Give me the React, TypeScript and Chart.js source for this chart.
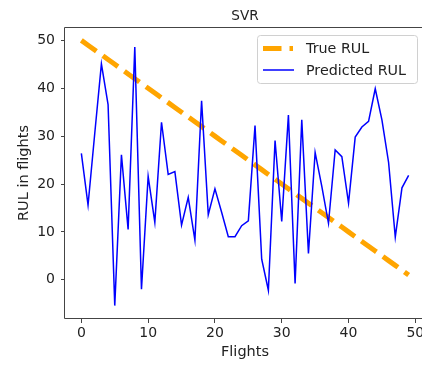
import React, { useEffect, useRef } from "react";
import { Chart, registerables } from "chart.js";

Chart.register(...registerables);

const flights = Array.from({ length: 50 }, (_, i) => i);
const trueRUL = [
  50, 49, 48, 47, 46, 45, 44, 43, 42, 41,
  40, 39, 38, 37, 36, 35, 34, 33, 32, 31,
  30, 29, 28, 27, 26, 25, 24, 23, 22, 21,
  20, 19, 18, 17, 16, 15, 14, 13, 12, 11,
  10, 9, 8, 7, 6, 5, 4, 3, 2, 1,
];
const predictedRUL = [
  26.4, 15.6, 30.5, 45.1, 36.6, -5.4, 26.1, 10.5, 48.6, -2.0,
  21.6, 12.0, 32.9, 22.0, 22.6, 11.4, 17.2, 8.3, 37.4, 13.6,
  19.0, 14.1, 9.0, 9.0, 11.3, 12.3, 32.2, 4.3, -2.2, 29.1,
  12.2, 34.4, -0.8, 33.4, 5.5, 26.6, 19.5, 11.8, 27.1, 25.7,
  16.0, 29.8, 31.9, 33.1, 39.9, 33.4, 24.5, 8.9, 19.2, 21.8,
];
const xTicks = [0, 10, 20, 30, 40, 50];
const yTicks = [0, 10, 20, 30, 40, 50];
const titleText = "SVR";
const xLabel = "Flights";
const yLabel = "RUL in flights";
const seriesNames = ["True RUL", "Predicted RUL"];

const FONT = "'DejaVu Sans', sans-serif";
const TEXT = "#222";
const SPINE = "#444";
const ORANGE = "#FFA500";
const BLUE = "#0000FF";
const DASH = [18.5, 8];
const CANVAS_W = 450;

const decor = {
  id: "decor",
  afterDraw(chart: any) {
    const { ctx, chartArea: a } = chart;
    ctx.save();
    // frame: left, top and bottom spines (the right spine lies beyond the page)
    ctx.strokeStyle = SPINE;
    ctx.lineWidth = 1;
    ctx.setLineDash([]);
    const L = Math.round(a.left) - 0.5;
    const T = Math.round(a.top) + 0.5;
    const B = Math.round(a.bottom) - 0.5;
    const R = Math.round(a.right);
    ctx.beginPath();
    ctx.moveTo(R, T);
    ctx.lineTo(L, T);
    ctx.lineTo(L, B);
    ctx.lineTo(R, B);
    ctx.stroke();
    // title
    ctx.fillStyle = TEXT;
    ctx.font = `13.6px ${FONT}`;
    ctx.textAlign = "center";
    ctx.textBaseline = "alphabetic";
    ctx.fillText(titleText, (a.left + a.right) / 2, 20);
    // legend
    const bx = 257.5, by = 35.5, bw = 160, bh = 48, r = 3;
    ctx.beginPath();
    ctx.moveTo(bx + r, by);
    ctx.lineTo(bx + bw - r, by);
    ctx.arcTo(bx + bw, by, bx + bw, by + r, r);
    ctx.lineTo(bx + bw, by + bh - r);
    ctx.arcTo(bx + bw, by + bh, bx + bw - r, by + bh, r);
    ctx.lineTo(bx + r, by + bh);
    ctx.arcTo(bx, by + bh, bx, by + bh - r, r);
    ctx.lineTo(bx, by + r);
    ctx.arcTo(bx, by, bx + r, by, r);
    ctx.closePath();
    ctx.fillStyle = "rgba(255,255,255,0.8)";
    ctx.fill();
    ctx.strokeStyle = "#d0d0d0";
    ctx.lineWidth = 1;
    ctx.stroke();
    // handles
    ctx.lineCap = "butt";
    ctx.strokeStyle = ORANGE;
    ctx.lineWidth = 5;
    ctx.setLineDash(DASH);
    ctx.beginPath();
    ctx.moveTo(263, 48.5);
    ctx.lineTo(293, 48.5);
    ctx.stroke();
    ctx.setLineDash([]);
    ctx.strokeStyle = BLUE;
    ctx.lineWidth = 1.5;
    ctx.beginPath();
    ctx.moveTo(263, 70);
    ctx.lineTo(294, 70);
    ctx.stroke();
    ctx.fillStyle = TEXT;
    ctx.font = `14.3px ${FONT}`;
    ctx.textAlign = "left";
    ctx.fillText(seriesNames[0], 306, 52.7);
    ctx.fillText(seriesNames[1], 306, 75);
    ctx.restore();
  },
};

export default function App() {
  const ref = useRef<HTMLCanvasElement | null>(null);
  useEffect(() => {
    if (!ref.current) return;
    const chart = new Chart(ref.current, {
      type: "line",
      data: {
        datasets: [
          {
            label: seriesNames[0],
            data: flights.map((x, i) => ({ x, y: trueRUL[i] })),
            borderColor: ORANGE,
            borderWidth: 5,
            borderDash: DASH,
            borderCapStyle: "butt",
            pointRadius: 0,
            tension: 0,
            order: 2,
          },
          {
            label: seriesNames[1],
            data: flights.map((x, i) => ({ x, y: predictedRUL[i] })),
            borderColor: BLUE,
            borderWidth: 1.5,
            pointRadius: 0,
            tension: 0,
            order: 1,
          },
        ],
      },
      options: {
        responsive: false,
        maintainAspectRatio: false,
        devicePixelRatio: 1,
        animation: false,
        layout: { padding: { top: 27, right: CANVAS_W - 425, left: 0, bottom: 0 } },
        plugins: {
          legend: { display: false },
          tooltip: { enabled: false },
          title: { display: false },
        },
        scales: {
          x: {
            type: "linear",
            min: -2.45,
            max: 51.45,
            afterBuildTicks: (s: any) => {
              s.ticks = xTicks.map((v) => ({ value: v }));
            },
            afterFit: (s: any) => {
              s.height = 46;
            },
            ticks: { font: { family: FONT, size: 14 }, color: TEXT, padding: 2, maxRotation: 0, autoSkip: false },
            grid: { drawOnChartArea: false, drawTicks: true, tickLength: 4, color: SPINE },
            border: { display: false },
            title: { display: true, text: xLabel, font: { family: FONT, size: 14.5 }, color: TEXT, padding: { top: 0, bottom: 4 } },
          },
          y: {
            type: "linear",
            min: -8.2,
            max: 52.8,
            afterBuildTicks: (s: any) => {
              s.ticks = yTicks.map((v) => ({ value: v }));
            },
            afterFit: (s: any) => {
              s.width = 65;
            },
            ticks: { font: { family: FONT, size: 14 }, color: TEXT, padding: 6, autoSkip: false },
            grid: { drawOnChartArea: false, drawTicks: true, tickLength: 4, color: SPINE },
            border: { display: false },
            title: { display: true, text: yLabel, font: { family: FONT, size: 14.5 }, color: TEXT, padding: { top: 15.5, bottom: 0 } },
          },
        },
      },
      plugins: [decor],
    } as any);
    return () => chart.destroy();
  }, []);
  return (
    <div style={{ position: "fixed", left: 0, top: 0, width: 422, height: 365, overflow: "hidden", background: "#fff" }}>
      <canvas ref={ref} width={CANVAS_W} height={365} style={{ display: "block", width: CANVAS_W, height: 365 }} />
    </div>
  );
}
